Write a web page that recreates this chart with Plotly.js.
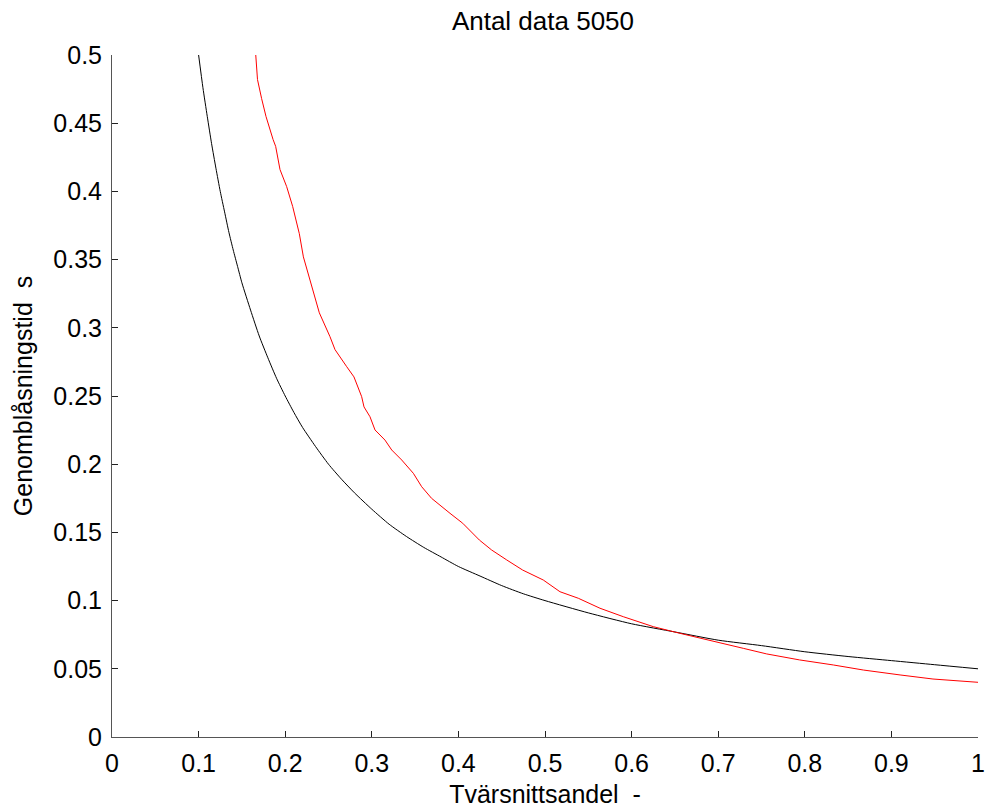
<!DOCTYPE html>
<html>
<head>
<meta charset="utf-8">
<script src="https://cdn.plot.ly/plotly-3.0.1.min.js"></script>
<style>html,body{margin:0;padding:0;background:#fff;}#chart{width:989px;height:808px;}</style>
</head>
<body>
<div id="chart"></div>
<script>
// Black curve
const blackX = [0.1, 0.105, 0.11, 0.115, 0.12, 0.125, 0.13, 0.135, 0.14, 0.145, 0.15, 0.16, 0.17, 0.18, 0.19, 0.2, 0.21, 0.22, 0.235, 0.25, 0.265, 0.28, 0.3, 0.32, 0.34, 0.36, 0.38, 0.4, 0.425, 0.45, 0.475, 0.5, 0.55, 0.6, 0.65, 0.7, 0.75, 0.8, 0.85, 0.9, 0.95, 1.0];
const blackY = [0.5, 0.476, 0.455, 0.435, 0.417, 0.4, 0.385, 0.37, 0.357, 0.345, 0.333, 0.313, 0.294, 0.278, 0.263, 0.25, 0.238, 0.227, 0.213, 0.2, 0.189, 0.179, 0.167, 0.156, 0.147, 0.139, 0.132, 0.125, 0.118, 0.111, 0.105, 0.1, 0.091, 0.083, 0.077, 0.071, 0.067, 0.0625, 0.059, 0.056, 0.053, 0.05];

// Red curve
const redX = [0.166, 0.168, 0.1728, 0.1778, 0.186, 0.189, 0.194, 0.2017, 0.2086, 0.2163, 0.221, 0.2286, 0.2394, 0.2517, 0.2575, 0.271, 0.2794, 0.2883, 0.291, 0.2979, 0.3037, 0.3152, 0.323, 0.3345, 0.348, 0.3576, 0.369, 0.3903, 0.405, 0.4242, 0.4384, 0.4558, 0.4742, 0.498, 0.5173, 0.5385, 0.5635, 0.5904, 0.625, 0.6559, 0.679, 0.702, 0.729, 0.756, 0.794, 0.833, 0.8676, 0.91, 0.948, 1.0];
const redY = [0.5, 0.482, 0.468, 0.455, 0.438, 0.433, 0.416, 0.4035, 0.389, 0.369, 0.352, 0.335, 0.311, 0.2935, 0.284, 0.2715, 0.264, 0.2495, 0.242, 0.2348, 0.2251, 0.2177, 0.2104, 0.2031, 0.1933, 0.1835, 0.175, 0.164, 0.1567, 0.1444, 0.1371, 0.1298, 0.1224, 0.1151, 0.1065, 0.1017, 0.0944, 0.0882, 0.0809, 0.076, 0.0724, 0.0687, 0.065, 0.0609, 0.0565, 0.0528, 0.0491, 0.0455, 0.0425, 0.0401];

const xTicks = [0, 0.1, 0.2, 0.3, 0.4, 0.5, 0.6, 0.7, 0.8, 0.9, 1];
const xTickText = ['0', '0.1', '0.2', '0.3', '0.4', '0.5', '0.6', '0.7', '0.8', '0.9', '1'];
const yTicks = [0, 0.05, 0.1, 0.15, 0.2, 0.25, 0.3, 0.35, 0.4, 0.45, 0.5];
const yTickText = ['0', '0.05', '0.1', '0.15', '0.2', '0.25', '0.3', '0.35', '0.4', '0.45', '0.5'];

const FONT = 'Liberation Sans, Arial, Helvetica, sans-serif';

const traces = [
  {x: blackX, y: blackY, type: 'scatter', mode: 'lines', line: {color: '#000000', width: 1, shape: 'spline', smoothing: 0.6}, hoverinfo: 'skip'},
  {x: redX, y: redY, type: 'scatter', mode: 'lines', line: {color: '#ff0000', width: 1}, hoverinfo: 'skip'}
];

const axisCommon = {
  showgrid: false, zeroline: false, showline: true, linecolor: '#555', linewidth: 1,
  ticks: 'inside', ticklen: 6, tickcolor: '#222', tickwidth: 1, mirror: false,
  tickfont: {family: FONT, size: 25, color: '#000'}, tickmode: 'array', ticklabelstandoff: 4
};

const layout = {
  width: 989, height: 808,
  margin: {l: 112, r: 11, t: 55, b: 71, pad: 0},
  paper_bgcolor: '#ffffff', plot_bgcolor: '#ffffff',
  showlegend: false,
  font: {family: FONT, color: '#000'},
  title: {text: 'Antal data 5050', font: {family: FONT, size: 26, color: '#000'}, x: 0.549, xanchor: 'center', yref: 'container', y: 0.986, yanchor: 'top'},
  xaxis: Object.assign({}, axisCommon, {range: [0, 1], tickvals: xTicks, ticktext: xTickText,
    title: {text: 'Tvärsnittsandel  -', font: {family: FONT, size: 25, color: '#000'}, standoff: 11}}),
  yaxis: Object.assign({}, axisCommon, {range: [0, 0.5], tickvals: yTicks, ticktext: yTickText,
    title: {text: 'Genomblåsningstid  s', font: {family: FONT, size: 25, color: '#000'}, standoff: 13}})
};

Plotly.newPlot('chart', traces, layout, {displayModeBar: false, staticPlot: true});
</script>
</body>
</html>
